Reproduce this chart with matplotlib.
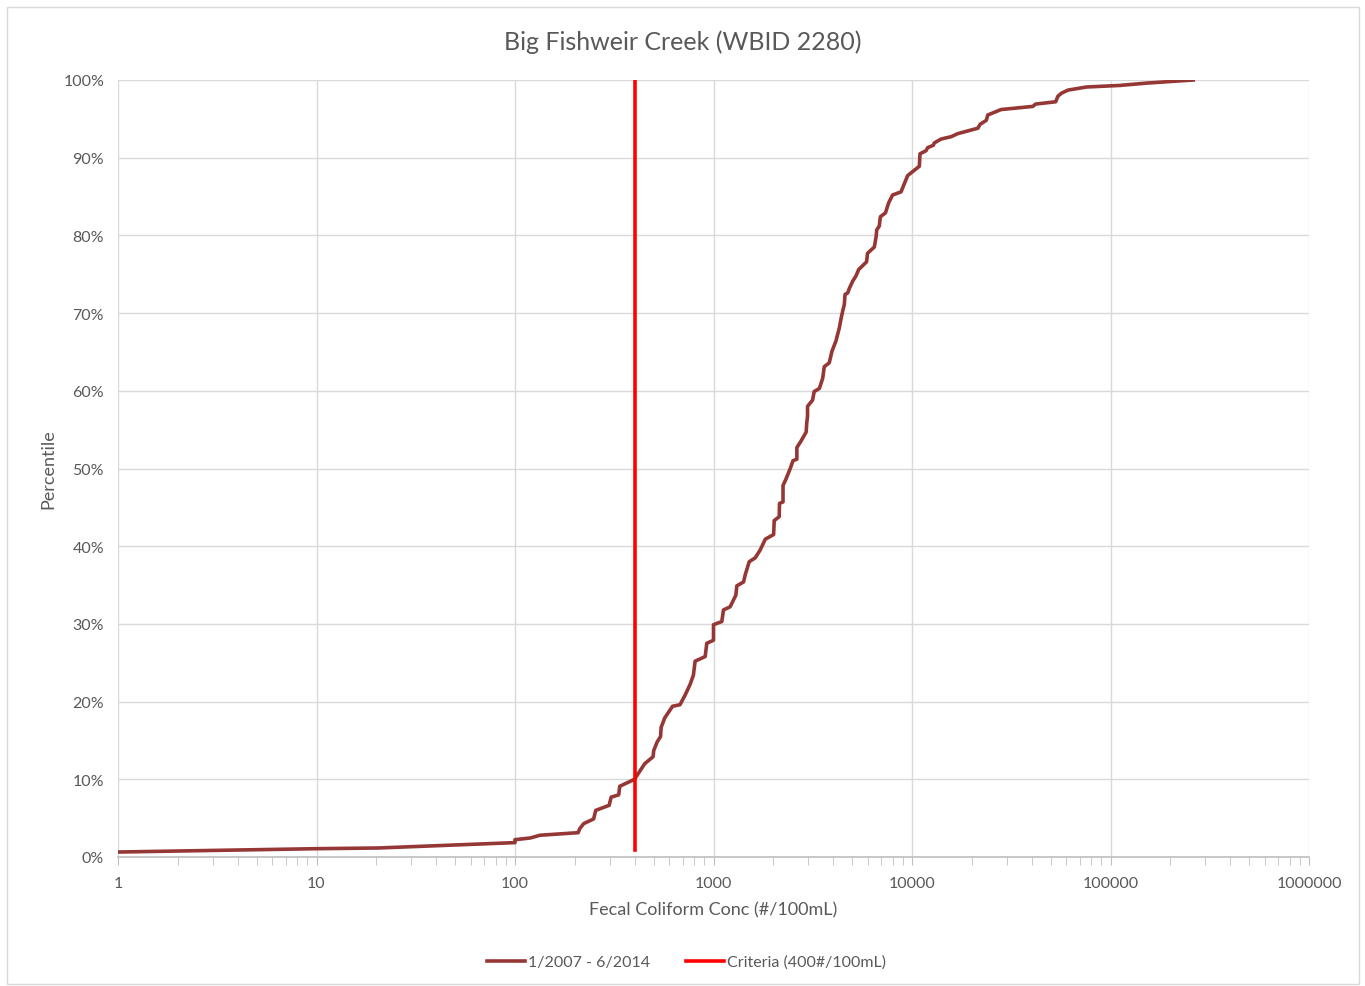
import matplotlib
import matplotlib.pyplot as plt
from matplotlib.ticker import LogLocator, FixedLocator, FuncFormatter
from matplotlib.patches import Rectangle

matplotlib.use('Agg')

conc = [1, 10, 20.5, 100, 100, 119.5, 133.6, 208, 212, 222, 249, 255, 298, 305, 333, 337,
        400, 450, 496, 500, 520, 541, 545, 568, 622, 678, 718, 762, 792, 808, 908, 925,
        1000, 1000, 1101, 1123, 1213, 1296, 1311, 1417, 1444, 1513, 1622, 1718, 1823,
        2008, 2023, 2143, 2150, 2240, 2240, 2323, 2436, 2514, 2630, 2630, 2755, 2930,
        2950, 2977, 2977, 3155, 3215, 3415, 3548, 3614, 3829, 3952, 4137, 4304, 4400,
        4470, 4560, 4600, 4745, 4838, 5024, 5225, 5385, 5905, 5970, 6460, 6600, 6640,
        6840, 6930, 7350, 7630, 7985, 8800, 9510, 10890, 10970, 11770, 12000, 12810,
        12950, 14000, 15730, 17020, 21480, 22040, 23660, 24100, 28130, 40620, 41900,
        52960, 54300, 56600, 61100, 75700, 111300, 152000, 261000]
pct = [0.64, 1.07, 1.16, 1.85, 2.23, 2.45, 2.8, 3.13, 3.65, 4.3, 4.9, 6.0, 6.65, 7.7, 8.0, 9.1,
       10.0, 12.0, 12.9, 13.7, 14.8, 15.5, 16.7, 17.9, 19.4, 19.6, 20.8, 22.2, 23.4, 25.2, 25.8, 27.5,
       27.9, 29.9, 30.3, 31.8, 32.2, 33.7, 34.9, 35.4, 36.3, 38.0, 38.5, 39.5, 40.9,
       41.5, 43.3, 43.8, 45.5, 45.7, 47.8, 48.7, 50.0, 51.0, 51.2, 52.7, 53.5, 54.7,
       55.9, 56.7, 58.0, 58.8, 59.9, 60.3, 61.6, 63.1, 63.6, 65.1, 66.4, 68.1, 69.4,
       70.2, 71.1, 72.4, 72.6, 73.2, 74.1, 74.8, 75.6, 76.6, 77.7, 78.5, 79.9, 80.7,
       81.2, 82.4, 82.9, 84.2, 85.2, 85.6, 87.7, 88.9, 90.5, 90.9, 91.3, 91.6,
       91.9, 92.4, 92.7, 93.1, 93.8, 94.3, 94.8, 95.5, 96.2, 96.6, 96.9,
       97.2, 97.9, 98.3, 98.7, 99.1, 99.3, 99.6, 100.0]

criteria_x = [400, 400]
criteria_y = [0.9, 100]

series_label = "1/2007 - 6/2014"
criteria_label = "Criteria (400#/100mL)"

plt.rcParams['font.family'] = ['Lato', 'DejaVu Sans']
grey = '#595959'

fig = plt.figure(figsize=(13.65, 9.87), dpi=100)
ax = fig.add_axes([118 / 1365, 1 - 858 / 987, (1309 - 118) / 1365, (858 - 81) / 987])

line1, = ax.plot(conc, pct, color='#953735', lw=2.6, label=series_label, zorder=3)
line2, = ax.plot(criteria_x, criteria_y, color='#ff0000', lw=2.6, label=criteria_label, zorder=4)

ax.set_xscale('log')
ax.set_xlim(1, 1e6)
ax.set_ylim(0, 100)
ax.xaxis.set_major_locator(FixedLocator([1, 10, 100, 1000, 10000, 100000, 1000000]))
ax.xaxis.set_major_formatter(FuncFormatter(lambda v, p: f"{int(round(v))}"))
ax.xaxis.set_minor_locator(LogLocator(base=10, subs=range(2, 10), numticks=20))
ax.yaxis.set_major_locator(FixedLocator(range(0, 101, 10)))
ax.yaxis.set_major_formatter(FuncFormatter(lambda v, p: f"{int(v)}%"))

ax.grid(True, which='major', color='#d9d9d9', lw=1)
ax.set_axisbelow(True)
for s in ['top', 'right', 'left']:
    ax.spines[s].set_visible(False)
ax.spines['bottom'].set_color('#bfbfbf')
ax.spines['bottom'].set_linewidth(1.2)
ax.tick_params(axis='x', which='both', direction='out', color='#bfbfbf', labelcolor=grey,
               labelsize=11.5, pad=8)
ax.tick_params(axis='x', which='major', length=6)
ax.tick_params(axis='x', which='minor', length=6)
ax.tick_params(axis='y', length=0, labelcolor=grey, labelsize=11.5, pad=10)

ax.set_xlabel("Fecal Coliform Conc (#/100mL)", color=grey, fontsize=13, labelpad=8)
ax.set_ylabel("Percentile", color=grey, fontsize=13, labelpad=5)
fig.suptitle("Big Fishweir Creek (WBID 2280)", color=grey, fontsize=18, y=1 - 42 / 987, va='center')

fig.legend(handles=[line1, line2], loc='center', bbox_to_anchor=(0.503, 1 - 963 / 987), ncol=2,
           frameon=False, fontsize=11.5, labelcolor=grey, handlelength=2.4, handletextpad=0.2,
           columnspacing=2.2)

fig.patches.append(Rectangle((7 / 1365, 2 / 987), 1352 / 1365, 977 / 987, transform=fig.transFigure,
                             fill=False, edgecolor='#d9d9d9', lw=1))

fig.savefig("out.png", dpi=100)
